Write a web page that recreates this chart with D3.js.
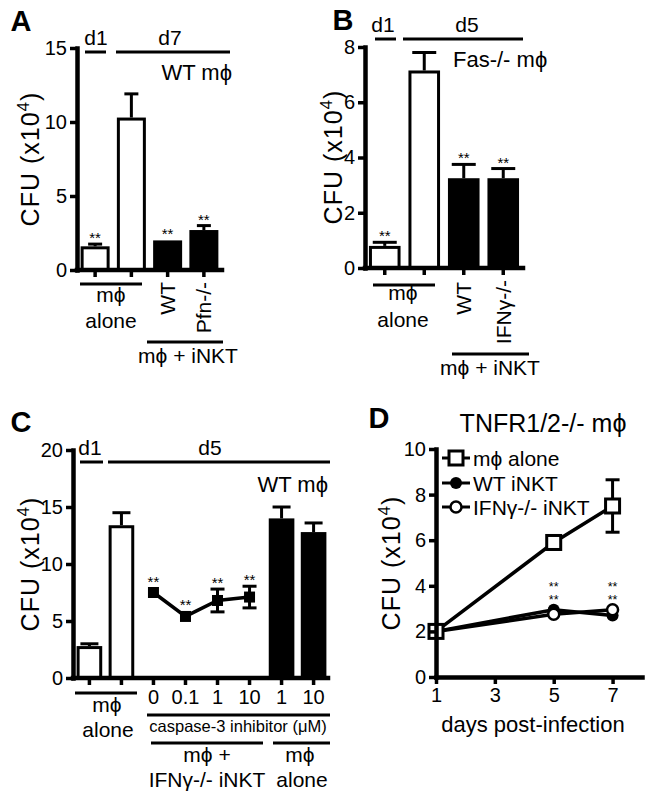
<!DOCTYPE html>
<html><head><meta charset="utf-8">
<script src="https://cdn.jsdelivr.net/npm/d3@7"></script>
<style>body{margin:0;background:#fff} svg text{fill:#000}</style>
</head><body><script>
// ---------- DATA ----------
// Panel A (WT mϕ, CFU x10^4)
const aCategories = ["d1 mϕ alone", "d7 mϕ alone", "WT", "Pfn-/-"];
const aValues = [1.6, 10.3, 2.0, 2.7];
const aErrors = [0.15, 1.6, 0.0, 0.3];
const aFilled = [false, false, true, true];
const aSignif = [true, false, true, true];
const aYTicks = [0, 5, 10, 15];

// Panel B (Fas-/- mϕ)
const bCategories = ["d1 mϕ alone", "d5 mϕ alone", "WT", "IFNγ-/-"];
const bValues = [0.8, 7.15, 3.25, 3.25];
const bErrors = [0.13, 0.65, 0.5, 0.35];
const bFilled = [false, false, true, true];
const bSignif = [true, false, true, true];
const bYTicks = [0, 2, 4, 6, 8];

// Panel C (WT mϕ, caspase-3 inhibitor)
const cCategories = ["d1 alone", "d5 alone", "inh 0", "inh 0.1", "inh 1", "inh 10", "alone 1", "alone 10"];
const cTickLabels = ["", "", "0", "0.1", "1", "10", "1", "10"];
const cValues = [2.8, 13.4, 7.5, 5.4, 6.8, 7.1, 14.0, 12.8];
const cErrors = [0.2, 1.1, 0, 0, 1.0, 0.95, 1.0, 0.8];
const cKind = ["bar", "bar", "point", "point", "point", "point", "bar", "bar"];
const cFilled = [false, false, true, true, true, true, true, true];
const cSignif = [false, false, true, true, true, true, false, false];
const cYTicks = [0, 5, 10, 15, 20];

// Panel D (TNFR1/2-/- mϕ)
const dDays = [1, 5, 7];
const dXTicks = [1, 3, 5, 7];
const dYTicks = [0, 2, 4, 6, 8, 10];
const dAlone = [2.0, 5.9, 7.5];
const dAloneErr = [0.1, 0.3, 1.15];
const dWT = [2.0, 2.95, 2.7];
const dIFN = [2.0, 2.75, 2.95];
const dSignifDays = [5, 7];

// ---------- HELPERS ----------
const FONT = "'Liberation Sans', Arial, Helvetica, sans-serif";
const svg = d3.select("body").append("svg").attr("width", 646).attr("height", 798)
  .attr("font-family", FONT);

function label(x, y, txt, size, anchor = "middle", bold = false) {
  const t = svg.append("text").attr("x", x).attr("y", y).attr("font-size", size)
    .attr("text-anchor", anchor).text(txt);
  if (bold) t.attr("font-weight", "bold");
  return t;
}
function hline(x1, x2, y, w = 3) {
  svg.append("line").attr("x1", x1).attr("x2", x2).attr("y1", y).attr("y2", y)
    .attr("stroke", "#000").attr("stroke-width", w);
}
function vlabel(x, yTop, txt, size) {
  svg.append("text").attr("transform", `translate(${x},${yTop}) rotate(-90)`)
    .attr("text-anchor", "end").attr("dy", "0.36em").attr("font-size", size).text(txt);
}
function yTitle(x, yc) {
  const t = svg.append("text").attr("transform", `translate(${x},${yc}) rotate(-90)`)
    .attr("text-anchor", "middle").attr("font-size", 25).attr("letter-spacing", 1);
  t.append("tspan").attr("dy", 9).text("CFU (x10");
  t.append("tspan").attr("dy", -10).attr("font-size", 17).text("4");
  t.append("tspan").attr("dy", 10).text(")");
}
function styleAxis(g) {
  g.attr("font-family", FONT).attr("font-size", 20);
  g.select(".domain").attr("stroke", "#000").attr("stroke-width", 4.5).attr("stroke-linecap", "square");
  g.selectAll(".tick line").attr("stroke", "#000").attr("stroke-width", 3.5);
  g.selectAll(".tick text").attr("fill", "#000");
}
function stars(x, y, size = 15) {
  return svg.append("text").attr("x", x).attr("y", y).attr("text-anchor", "middle")
    .attr("font-size", size).text("**");
}

function barPanel(cfg) {
  const y = d3.scaleLinear().domain(cfg.yDomain).range(cfg.yRange);
  const x = d3.scaleBand().domain(cfg.cats).range(cfg.xRange)
    .paddingInner(cfg.padIn).paddingOuter(cfg.padOut);
  const data = cfg.cats.map((c, i) => ({
    c, v: cfg.vals[i], e: cfg.errs[i], f: cfg.filled[i], s: cfg.signif[i],
    k: cfg.kind ? cfg.kind[i] : "bar"
  }));
  const bw = x.bandwidth();
  const g = svg.append("g");
  const barData = data.filter(d => d.k === "bar");
  barData.filter(d => d.e > 0).forEach(d => {
    const cx = x(d.c) + bw / 2;
    g.append("line").attr("x1", cx).attr("x2", cx).attr("y1", y(d.v)).attr("y2", y(d.v + d.e))
      .attr("stroke", "#000").attr("stroke-width", 3);
    g.append("line").attr("x1", cx - cfg.capW / 2).attr("x2", cx + cfg.capW / 2)
      .attr("y1", y(d.v + d.e)).attr("y2", y(d.v + d.e)).attr("stroke", "#000").attr("stroke-width", 3);
  });
  g.selectAll("rect.bar").data(barData).join("rect").attr("class", "bar")
    .attr("x", d => x(d.c) + 1.5).attr("width", bw - 3)
    .attr("y", d => y(d.v) + 1.5).attr("height", d => y(0) - y(d.v) - 1.5)
    .attr("fill", d => d.f ? "#000" : "#fff").attr("stroke", "#000").attr("stroke-width", 3);

  const pts = data.filter(d => d.k === "point");
  if (pts.length) {
    g.append("path").datum(pts)
      .attr("d", d3.line().x(d => x(d.c) + bw / 2).y(d => y(d.v)))
      .attr("fill", "none").attr("stroke", "#000").attr("stroke-width", 3.5);
    pts.filter(d => d.e > 0).forEach(d => {
      const cx = x(d.c) + bw / 2;
      g.append("line").attr("x1", cx).attr("x2", cx).attr("y1", y(d.v - d.e)).attr("y2", y(d.v + d.e))
        .attr("stroke", "#000").attr("stroke-width", 3);
      [d.v - d.e, d.v + d.e].forEach(v => g.append("line")
        .attr("x1", cx - 7).attr("x2", cx + 7).attr("y1", y(v)).attr("y2", y(v))
        .attr("stroke", "#000").attr("stroke-width", 3));
    });
    g.selectAll("rect.pt").data(pts).join("rect").attr("class", "pt")
      .attr("x", d => x(d.c) + bw / 2 - 5.5).attr("y", d => y(d.v) - 5.5)
      .attr("width", 11).attr("height", 11).attr("fill", "#000");
  }
  data.filter(d => d.s).forEach(d => {
    const top = d.k === "point" ? y(d.v + d.e) - (d.e > 0 ? 1 : 6) : y(d.v + d.e) - 1;
    stars(x(d.c) + bw / 2, top);
  });
  const xAxis = d3.axisBottom(x).tickSize(7).tickSizeOuter(0).tickPadding(5)
    .tickFormat((d, i) => cfg.tickLabels ? cfg.tickLabels[i] : "");
  const gx = svg.append("g").attr("transform", `translate(0,${y(0)})`).call(xAxis);
  gx.select(".domain").attr("d", `M${cfg.axisX0},0H${cfg.axisX1}`);
  styleAxis(gx);
  const gy = svg.append("g").attr("transform", `translate(${cfg.axisX0},0)`)
    .call(d3.axisLeft(y).tickValues(cfg.yTicks).tickSize(7).tickSizeOuter(0).tickPadding(3));
  styleAxis(gy);
  return { x, y, bw };
}

// ---------- PANEL A ----------
const A = barPanel({
  cats: aCategories, vals: aValues, errs: aErrors, filled: aFilled, signif: aSignif,
  yDomain: [0, 15], yRange: [270, 48], yTicks: aYTicks,
  xRange: [77, 222], axisX0: 77, axisX1: 222, padIn: 0.2, padOut: 0.1, capW: 14
});
label(21, 31, "A", 29, "middle", true);
yTitle(30, 159);
label(96, 45, "d1", 21); hline(85, 106, 52);
label(170, 45, "d7", 21); hline(116, 230, 52);
label(232, 80, "WT mϕ", 22, "end");
hline(80, 142, 284);
label(111, 302, "mϕ", 21); label(111, 328, "alone", 21);
vlabel(A.x("WT") + A.bw / 2, 282, "WT", 21);
vlabel(A.x("Pfn-/-") + A.bw / 2, 282, "Pfn-/-", 21);
hline(147, 223, 342);
label(188, 363, "mϕ + iNKT", 21);

// ---------- PANEL B ----------
const B = barPanel({
  cats: bCategories, vals: bValues, errs: bErrors, filled: bFilled, signif: bSignif,
  yDomain: [0, 8], yRange: [268, 47], yTicks: bYTicks,
  xRange: [365, 523], axisX0: 365, axisX1: 523, padIn: 0.2, padOut: 0.1, capW: 24
});
label(343, 30, "B", 29, "middle", true);
yTitle(333, 157);
label(383, 32, "d1", 21); hline(375, 396, 39);
label(467, 32, "d5", 21); hline(403, 523, 39);
label(453, 67, "Fas-/- mϕ", 22, "start");
hline(373, 435, 285);
label(403, 300, "mϕ", 21); label(403, 327, "alone", 21);
vlabel(B.x("WT") + B.bw / 2, 282, "WT", 21);
vlabel(B.x("IFNγ-/-") + B.bw / 2, 280, "IFNγ-/-", 21);
hline(452, 529, 354);
label(490, 375, "mϕ + iNKT", 21);

// ---------- PANEL C ----------
const C = barPanel({
  cats: cCategories, vals: cValues, errs: cErrors, filled: cFilled, signif: cSignif, kind: cKind,
  tickLabels: cTickLabels,
  yDomain: [0, 20], yRange: [678, 450], yTicks: cYTicks,
  xRange: [75, 328], axisX0: 73, axisX1: 328, padIn: 0.2, padOut: 0.05, capW: 18
});
label(21, 432, "C", 29, "middle", true);
yTitle(30, 564);
label(90, 455, "d1", 21); hline(80, 103, 462);
label(210, 455, "d5", 21); hline(108, 330, 462);
label(328, 492, "WT mϕ", 22, "end");
hline(75, 137, 693);
label(107, 712, "mϕ", 21); label(108, 737, "alone", 21);
hline(147, 330, 715);
label(238, 732, "caspase-3 inhibitor (μM)", 16.5);
hline(151, 263, 743); hline(273, 330, 743);
label(207, 762, "mϕ +", 21); label(207, 787, "IFNγ-/- iNKT", 21);
label(300, 762, "mϕ", 21); label(302, 787, "alone", 21);

// ---------- PANEL D ----------
const dx = d3.scaleLinear().domain([1, 8]).range([436, 642]);
const dy = d3.scaleLinear().domain([0, 10]).range([677, 449]);
label(379, 428, "D", 29, "middle", true);
label(543, 432, "TNFR1/2-/- mϕ", 25);
yTitle(391, 563);
const lineGen = d3.line().x((v, i) => dx(dDays[i])).y(v => dy(v));
[dAlone, dWT, dIFN].forEach(s => svg.append("path").attr("d", lineGen(s))
  .attr("fill", "none").attr("stroke", "#000").attr("stroke-width", 3.5));
dAlone.forEach((v, i) => {
  const e = dAloneErr[i], cx = dx(dDays[i]);
  svg.append("line").attr("x1", cx).attr("x2", cx).attr("y1", dy(v - e)).attr("y2", dy(v + e))
    .attr("stroke", "#000").attr("stroke-width", 3);
  [v - e, v + e].forEach(b => svg.append("line").attr("x1", cx - 7).attr("x2", cx + 7)
    .attr("y1", dy(b)).attr("y2", dy(b)).attr("stroke", "#000").attr("stroke-width", 3));
});
svg.selectAll("circle.wt").data(dWT).join("circle").attr("class", "wt")
  .attr("cx", (v, i) => dx(dDays[i])).attr("cy", v => dy(v)).attr("r", 6).attr("fill", "#000");
svg.selectAll("circle.ifn").data(dIFN).join("circle").attr("class", "ifn")
  .attr("cx", (v, i) => dx(dDays[i])).attr("cy", v => dy(v)).attr("r", 5.5)
  .attr("fill", "#fff").attr("stroke", "#000").attr("stroke-width", 2.5);
svg.selectAll("rect.al").data(dAlone).join("rect").attr("class", "al")
  .attr("x", (v, i) => dx(dDays[i]) - 7).attr("y", v => dy(v) - 7).attr("width", 14).attr("height", 14)
  .attr("fill", "#fff").attr("stroke", "#000").attr("stroke-width", 3);
// two rows of significance stars (one per comparison)
dSignifDays.forEach(d => { stars(dx(d), 591, 12.5); stars(dx(d), 604, 12.5); });
const gdx = svg.append("g").attr("transform", `translate(0,${dy(0)})`)
  .call(d3.axisBottom(dx).tickValues(dXTicks).tickFormat(d3.format("d")).tickSize(7).tickSizeOuter(0).tickPadding(4));
styleAxis(gdx);
const gdy = svg.append("g").attr("transform", `translate(${dx(1)},0)`)
  .call(d3.axisLeft(dy).tickValues(dYTicks).tickSize(7).tickSizeOuter(0).tickPadding(3));
styleAxis(gdy);
label(533, 732, "days post-infection", 22);
const legItems = ["mϕ alone", "WT iNKT", "IFNγ-/- iNKT"];
const legY = [458, 483, 507];
legItems.forEach((t, i) => {
  hline(442, 470, legY[i], 3);
  if (i === 0) svg.append("rect").attr("x", 449).attr("y", legY[i] - 7).attr("width", 14).attr("height", 14)
    .attr("fill", "#fff").attr("stroke", "#000").attr("stroke-width", 3);
  if (i === 1) svg.append("circle").attr("cx", 456).attr("cy", legY[i]).attr("r", 6).attr("fill", "#000");
  if (i === 2) svg.append("circle").attr("cx", 456).attr("cy", legY[i]).attr("r", 5.5)
    .attr("fill", "#fff").attr("stroke", "#000").attr("stroke-width", 2.5);
  label(473, legY[i], t, 21, "start").attr("dy", "0.36em");
});
</script></body></html>
